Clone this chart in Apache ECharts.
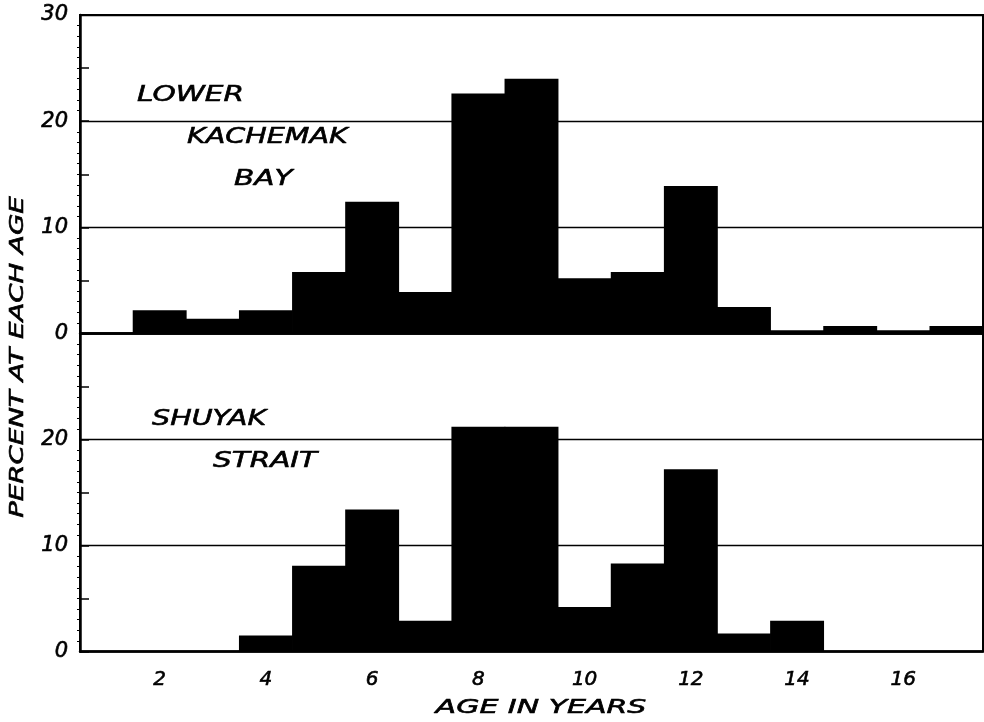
<!DOCTYPE html>
<html>
<head>
<meta charset="utf-8">
<script src="https://cdn.jsdelivr.net/npm/echarts@6/dist/echarts.min.js"></script>
<style>
  html, body { margin: 0; padding: 0; background: #fff; }
  #chart { width: 984px; height: 722px; }
</style>
</head>
<body>
<div id="chart"></div>
<script>
// Age classes (years)
const ages = ['1', '2', '3', '4', '5', '6', '7', '8', '9', '10', '11', '12', '13', '14', '15', '16', '17'];
// Percent of sample at each age, Lower Kachemak Bay
const kachemakBay = [0, 2.2, 1.4, 2.2, 5.8, 12.4, 3.9, 22.6, 24.0, 5.2, 5.8, 13.9, 2.5, 0.3, 0.7, 0.3, 0.7];
// Percent of sample at each age, Shuyak Strait
const shuyakStrait = [0, 0, 0, 1.5, 8.1, 13.4, 2.9, 21.2, 21.2, 4.2, 8.3, 17.2, 1.7, 2.9, 0, 0, 0];
// Y-axis range and tick steps
const yMin = 0, yMax = 30, yStep = 10, yMinorStep = 5;

const FONT = '"DejaVu Sans", sans-serif';
const INK = '#000';

const chart = echarts.init(document.getElementById('chart'), null, { renderer: 'canvas' });

const grids = [
  { left: 80, top: 15, width: 903, height: 318.5 },
  { left: 80, top: 333.5, width: 903, height: 318 }
];

// Only even ages get a label
function evenOnly(i, v) { return Number(v) % 2 === 0; }

// Lettering: oblique with a slight outline for a pen-drawn weight
const tickText = {
  color: INK, fontFamily: FONT, fontStyle: 'italic', fontSize: 20,
  textBorderColor: INK, textBorderWidth: 0.6
};

function xAxis(gridIndex, showLabels) {
  return {
    type: 'category', gridIndex, data: ages, boundaryGap: true,
    axisLine: { show: true, lineStyle: { color: INK, width: 2.5 } },
    axisTick: { show: false },
    axisLabel: Object.assign({ show: showLabels, interval: evenOnly, margin: 18 }, tickText),
    splitLine: { show: false }
  };
}

function yAxisMain(gridIndex, showMax) {
  return {
    type: 'value', gridIndex, min: yMin, max: yMax, interval: yStep, position: 'left',
    axisLine: { show: true, lineStyle: { color: INK, width: 2.5 } },
    axisTick: { show: false },
    minorTick: { show: true, splitNumber: 10, length: 3, lineStyle: { color: INK, width: 1 } },
    axisLabel: Object.assign({ margin: 12, showMaxLabel: showMax }, tickText, { fontSize: 21 }),
    splitLine: { show: true, lineStyle: { color: INK, width: 1.3 } }
  };
}
function yAxisTicks(gridIndex) {
  return {
    type: 'value', gridIndex, min: yMin, max: yMax, interval: yMinorStep, position: 'left',
    axisLine: { show: false },
    axisTick: { show: true, inside: true, length: 9, lineStyle: { color: INK, width: 1.5 } },
    axisLabel: { show: false },
    splitLine: { show: false }
  };
}

function lettering(text, x, y, sx, size, extra) {
  return Object.assign({
    type: 'text', x, y, scaleX: sx,
    style: {
      text, font: 'italic ' + size + 'px ' + FONT, fill: INK,
      stroke: INK, lineWidth: 0.6,
      textAlign: 'left', textVerticalAlign: 'middle'
    }
  }, extra || {});
}

// Bars slightly wider than their class so neighbours join without seams
const barStyle = { color: INK };
const barWidth = '101.5%';

const option = {
  animation: false,
  backgroundColor: '#fff',
  grid: grids.map(g => Object.assign({ show: true, borderColor: INK, borderWidth: 2, backgroundColor: 'transparent' }, g)),
  xAxis: [xAxis(0, false), xAxis(1, true)],
  yAxis: [yAxisMain(0, true), yAxisMain(1, false), yAxisTicks(0), yAxisTicks(1)],
  series: [
    {
      name: 'Lower Kachemak Bay', type: 'bar', xAxisIndex: 0, yAxisIndex: 0,
      data: kachemakBay, barWidth, itemStyle: barStyle, z: 3
    },
    {
      name: 'Shuyak Strait', type: 'bar', xAxisIndex: 1, yAxisIndex: 1,
      data: shuyakStrait, barWidth, itemStyle: barStyle, z: 3
    }
  ],
  graphic: [
    lettering('LOWER', 137, 95, 1.34, 22),
    lettering('KACHEMAK', 187, 137, 1.3, 22),
    lettering('BAY', 234, 179, 1.34, 22),
    lettering('SHUYAK', 152, 419, 1.3, 22),
    lettering('STRAIT', 213, 461, 1.34, 22),
    (function () {
      const t = lettering('PERCENT AT EACH AGE', 18, 357, 1.38, 20, { rotation: Math.PI / 2 });
      t.style.textAlign = 'center';
      return t;
    })(),
    (function () {
      const t = lettering('AGE IN YEARS', 541, 708, 1.5, 20);
      t.style.textAlign = 'center';
      return t;
    })()
  ]
};

chart.setOption(option);
</script>
</body>
</html>
